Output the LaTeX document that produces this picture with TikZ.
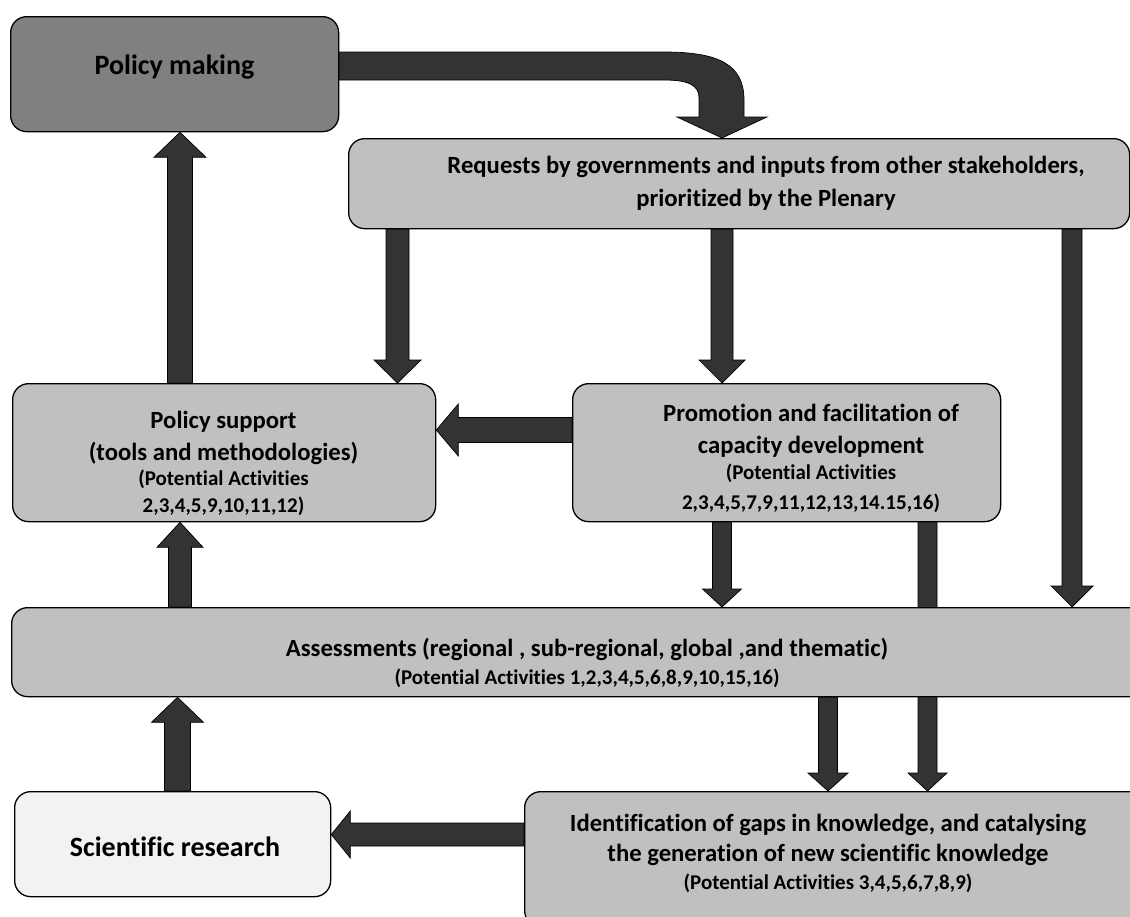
\documentclass[tikz,border=0pt]{standalone}
\usepackage{fontspec}
\setmainfont{Carlito}[Ligatures=NoCommon]
\usetikzlibrary{calc}
\pgfdeclarelayer{bg}
\pgfsetlayers{bg,main}
\definecolor{arrowgray}{HTML}{333333}
\definecolor{darkbox}{HTML}{808080}
\definecolor{midbox}{HTML}{C0C0C0}
\definecolor{lightbox}{HTML}{F2F2F2}
\tikzset{
  box/.style={draw=black, line width=1.3pt, rounded corners=16pt, inner sep=0pt, anchor=north west, fill=midbox},
  blk/.style={fill=arrowgray, draw=black, line width=0.7pt},
  lbl/.style={anchor=base, inner sep=0pt, font=\fontsize{24.7}{30}\selectfont\bfseries},
  sublbl/.style={lbl, font=\fontsize{21}{25}\selectfont\bfseries},
  biglbl/.style={lbl, font=\fontsize{28}{33}\selectfont\bfseries}
}
% block arrow: #1 start, #2 tip, #3 shaft half width, #4 head half width, #5 head length
\newcommand\blkarrow[5]{%
  \coordinate (hb) at ($(#2)!#5!(#1)$);
  \path[blk] ($(#1)!#3!90:(#2)$) -- ($(hb)!#3!90:(#2)$) -- ($(hb)!#4!90:(#2)$) -- (#2)
     -- ($(hb)!#4!-90:(#2)$) -- ($(hb)!#3!-90:(#2)$) -- ($(#1)!#3!-90:(#2)$) -- cycle;
}
\begin{document}
\begin{tikzpicture}[x=1pt,y=-1pt]
\useasboundingbox (0,0) rectangle (1130,916);
\clip (0,0) rectangle (1130,916);

% boxes
\node[box, fill=darkbox, minimum width=328pt, minimum height=115pt] (pm) at (10,16) {};
\node[box, minimum width=781pt, minimum height=90pt] (req) at (348,138) {};
\node[box, minimum width=423pt, minimum height=138pt] (ps) at (12,383) {};
\node[box, minimum width=428pt, minimum height=138pt] (promo) at (572,383) {};
\node[box, minimum width=1140pt, minimum height=89pt] (ass) at (11,607) {};
\node[box, fill=lightbox, minimum width=316pt, minimum height=105pt] (sr) at (14,791) {};
\node[box, minimum width=630pt, minimum height=135pt] (idg) at (524,791) {};

% reference coordinates for arrow positions
\coordinate (xa) at (180,0);
\coordinate (xb) at (397.5,0);
\coordinate (xc) at (722,0);
\coordinate (xd) at (1072,0);
\coordinate (xf) at (927.5,0);
\coordinate (xg) at (828,0);
\coordinate (xh) at (177.5,0);
\coordinate (ya) at (0,430);
\coordinate (yb) at (0,834.5);

\begin{pgfonlayer}{bg}
% curved arrow policy making -> requests
\path[blk] ($(pm.north east)+(0,36)$) -- (664,52) .. controls (718,52) and (744,64) .. (744,100)
   -- (744,117) -- (767,117) -- (req.north -| xc) -- (677,117) -- (699,117) -- (699,98)
   .. controls (699,86) and (690,80) .. (664,80) -- ($(pm.north east)+(0,64)$) -- cycle;
\blkarrow{ps.north -| xa}{pm.south -| xa}{12.5pt}{26pt}{25pt}
\blkarrow{req.south -| xb}{ps.north -| xb}{11.5pt}{23.5pt}{23pt}
\blkarrow{req.south -| xc}{promo.north -| xc}{11pt}{23pt}{23pt}
\blkarrow{req.south -| xd}{ass.north -| xd}{10pt}{21pt}{21pt}
\blkarrow{promo.west |- ya}{ps.east |- ya}{12.5pt}{26pt}{22pt}
\blkarrow{ass.north -| xa}{ps.south -| xa}{11.5pt}{23pt}{25pt}
\blkarrow{promo.south -| xc}{ass.north -| xc}{9.5pt}{19.5pt}{18pt}
\blkarrow{promo.south -| xf}{idg.north -| xf}{9.5pt}{19.5pt}{18pt}
\blkarrow{ass.south -| xg}{idg.north -| xg}{9.5pt}{20pt}{18pt}
\blkarrow{sr.north -| xh}{ass.south -| xh}{13pt}{26pt}{25pt}
\blkarrow{idg.west |- yb}{sr.east |- yb}{11.5pt}{23.5pt}{19pt}
\end{pgfonlayer}

% texts
\node[biglbl] (pmT) at (174.5,74) {Policy making};
\node[lbl] (reqT1) at (766,173) {Requests by governments and inputs from other stakeholders,};
\node[lbl] (reqT2) at (766,206) {prioritized by the Plenary};
\node[lbl] (psT1) at (223.5,428) {Policy support};
\node[lbl] (psT2) at (223.5,460) {(tools and methodologies)};
\node[sublbl] (psT3) at (223.5,485) {(Potential Activities};
\node[sublbl] (psT4) at (223.5,512) {2,3,4,5,9,10,11,12)};
\node[lbl] (prT1) at (811,421) {Promotion and facilitation of};
\node[lbl] (prT2) at (811,453) {capacity development};
\node[sublbl] (prT3) at (811,479) {(Potential Activities};
\node[sublbl] (prT4) at (811,509) {2,3,4,5,7,9,11,12,13,14.15,16)};
\node[lbl] (asT1) at (587,656) {Assessments (regional , sub-regional, global ,and thematic)};
\node[sublbl] (asT2) at (587,684) {(Potential Activities 1,2,3,4,5,6,8,9,10,15,16)};
\node[biglbl] (srT) at (175,856) {Scientific research};
\node[lbl] (idT1) at (828,831) {Identification of gaps in knowledge, and catalysing};
\node[lbl] (idT2) at (828,861) {the generation of new scientific knowledge};
\node[sublbl] (idT3) at (828,889) {(Potential Activities 3,4,5,6,7,8,9)};
\end{tikzpicture}
\end{document}
